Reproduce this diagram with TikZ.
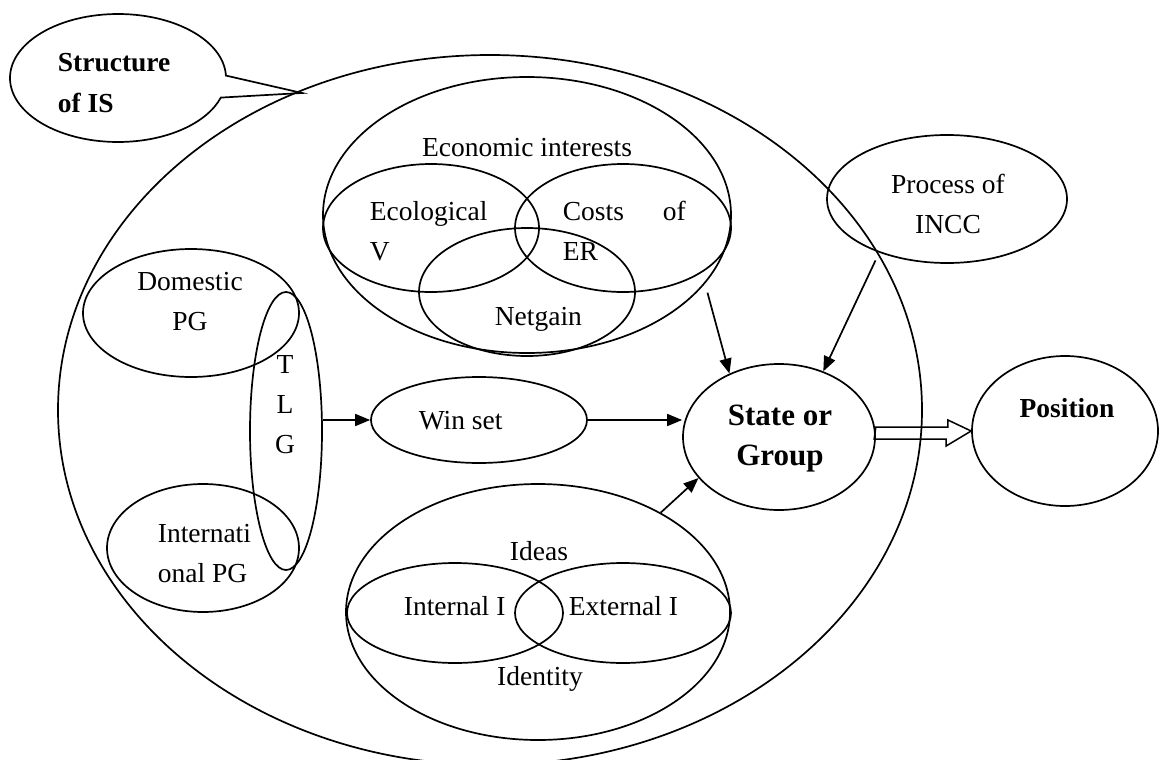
\documentclass[tikz,border=0pt]{standalone}
\usepackage{fontspec}
\setmainfont{Liberation Serif}
\usetikzlibrary{shapes.geometric,shapes.callouts,arrows.meta,calc}
\begin{document}
\begin{tikzpicture}[x=1pt,y=-1pt, line width=1.7pt,
  ell/.style={draw, ellipse, inner sep=0pt},
  lbl/.style={inner sep=0pt, font=\fontsize{27.5}{40}\selectfont},
  blbl/.style={inner sep=0pt, font=\fontsize{27.5}{40}\selectfont\bfseries},
  arr/.style={-{Triangle[length=15pt,width=12pt]}},
  hollow/.style={line width=1.5pt, line join=miter}]
\useasboundingbox (0,0) rectangle (1159,760);

% Structure of IS
\node[ell, minimum width=864pt, minimum height=710pt] (is) at (490,410) {};
\coordinate (tip) at (302,93);
\node[draw, ellipse callout, minimum width=216pt, minimum height=128pt, inner sep=0pt,
      callout absolute pointer={(tip)}, callout pointer arc=20] (sis) at (118,78) {};
\node[blbl, anchor=base west, align=left] (sist) at (57,112) {Structure\\of IS};

% Economic interests
\node[ell, minimum width=408pt, minimum height=276pt] (econ) at (527,215) {};
\node[lbl, anchor=base] (econt) at (527,156) {Economic interests};
\node[ell, minimum width=216pt, minimum height=128pt] (eco) at (431,228) {};
\node[ell, minimum width=216pt, minimum height=128pt] (cost) at (623,228) {};
\node[ell, minimum width=216pt, minimum height=128pt] (net) at (527,292) {};
\node[lbl, anchor=base west, align=left] (ecot) at (369,260) {Ecological\\V};
\node[lbl, anchor=base west, align=left] (costt) at (562,260) {\makebox[123pt][s]{Costs of}\\ER};
\node[lbl, anchor=base west] (nett) at (494,325) {Netgain};

% Domestic / TLG / International
\node[ell, minimum width=216pt, minimum height=128pt] (dom) at (191,313) {};
\node[lbl, anchor=base, align=center] (domt) at (190,330) {Domestic\\PG};
\node[ell, minimum width=72pt, minimum height=278pt] (tlg) at (286,431) {};
\node[lbl, anchor=base, align=center] (tlgt) at (285,453) {T\\L\\G};
\node[ell, minimum width=192pt, minimum height=128pt] (intl) at (203,548) {};
\node[lbl, anchor=base west, align=left] (intlt) at (157,582) {Internati\\onal PG};

% Win set
\node[ell, minimum width=216pt, minimum height=86pt] (win) at (479,420) {};
\node[lbl, anchor=base west] (wint) at (418,429) {Win set};

% State or Group
\node[ell, minimum width=192pt, minimum height=146pt] (state) at (779,437) {};
\node[inner sep=0pt, font=\fontsize{31}{40}\selectfont\bfseries, anchor=base, align=center] (statet) at (780,465) {State or\\Group};

% Position
\node[ell, minimum width=186pt, minimum height=150pt] (pos) at (1065,431) {};
\node[blbl, anchor=base] (post) at (1067,417) {Position};

% Process of INCC
\node[ell, minimum width=240pt, minimum height=128pt] (incc) at (947,199) {};
\node[lbl, anchor=base, align=center] (incct) at (948,233) {Process of\\INCC};

% Ideas
\node[ell, minimum width=384pt, minimum height=256pt] (ideas) at (538,612) {};
\node[ell, minimum width=216pt, minimum height=100pt] (int) at (455,613) {};
\node[ell, minimum width=216pt, minimum height=100pt] (ext) at (623,613) {};
\node[lbl, anchor=base] (ideast) at (539,560) {Ideas};
\node[lbl, anchor=base west] (intt) at (403,615) {Internal I};
\node[lbl, anchor=base west] (extt) at (568,615) {External I};
\node[lbl, anchor=base] (identt) at (540,685) {Identity};

% connectors
\draw[arr] (tlg.east |- win.west) -- (win.west);
\draw[arr] (win.east) -- (win.east -| state.west);
\draw[arr] ($(econ.-20)+(0,12)$) -- (state.128);
\draw[arr] ($(incc.-145)+(2,10)$) -- (state.56);
\draw[arr] (ideas.39) -- (state.207);
\draw[hollow] ($(state.east)+(0,-10)$) -- ++(72,0) -- ++(0,-7) -- (pos.west)
  -- ++(-25,15) -- ++(0,-7) -- ++(-72,0) -- cycle;
\end{tikzpicture}
\end{document}
